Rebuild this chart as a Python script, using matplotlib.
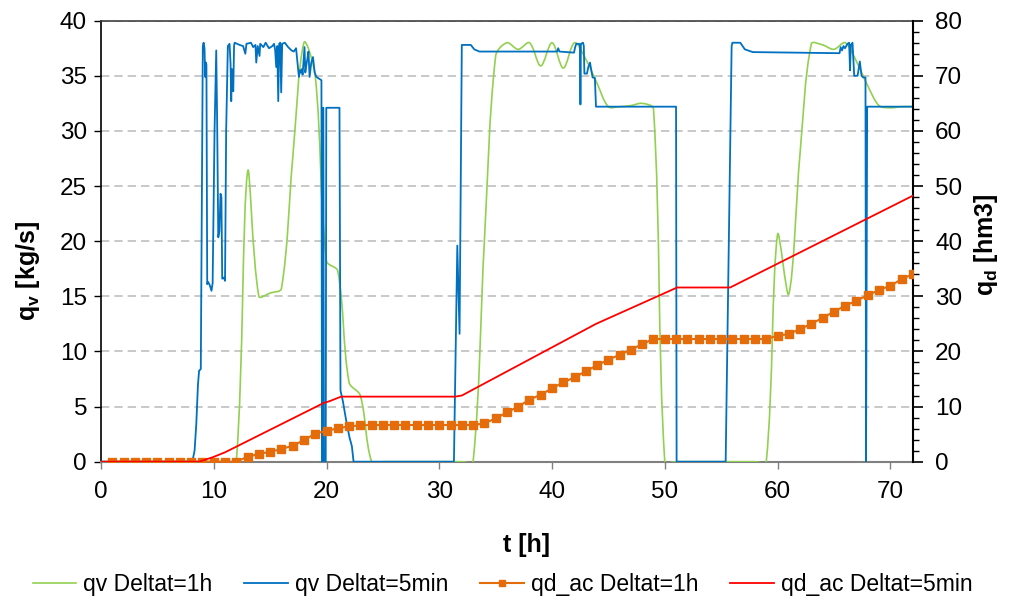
import numpy as np
import matplotlib
matplotlib.use("Agg")
import matplotlib.pyplot as plt
from matplotlib.path import Path
from matplotlib.patches import PathPatch
from matplotlib.lines import Line2D
from matplotlib.ticker import MultipleLocator

plt.rcParams['font.family'] = ['Liberation Sans', 'DejaVu Sans']
plt.rcParams['mathtext.fontset'] = 'custom'
plt.rcParams['mathtext.rm'] = 'Liberation Sans'
plt.rcParams['mathtext.bf'] = 'Liberation Sans:bold'

# qv with Deltat = 1h (hourly values, t = 0..72)
t_1h = list(range(0, 73))
qv_1h = [0, 0, 0, 0, 0, 0, 0, 0, 0, 0, 0, 0,
         0, 26.3, 15.0, 15.3, 15.7, 27.5, 38.0, 35.0, 18.2, 17.3, 7.2, 6.0,
         0, 0, 0, 0, 0, 0, 0, 0, 0, 0, 20.0, 36.8,
         38.0, 37.4, 38.0, 35.9, 38.0, 35.7, 38.0, 36.5, 34.3, 32.2, 32.2, 32.3,
         32.5, 32.0, 0, 0, 0, 0, 0, 0, 0, 0, 0, 0,
         20.6, 15.2, 28.0, 37.9, 37.8, 37.4, 38.0, 36.3, 34.1, 32.3, 32.1, 32.2,
         32.2]

# qd_ac with Deltat = 1h (t = 1..72)
t_acc_1h = list(range(1, 73))
qd_1h = [0, 0, 0, 0, 0, 0, 0, 0, 0, 0, 0, 0,
         0.9, 1.4, 1.8, 2.3, 2.9, 3.9, 5.1, 5.6, 6.05, 6.4, 6.6, 6.65,
         6.65, 6.65, 6.65, 6.65, 6.65, 6.65, 6.65, 6.65, 6.65, 6.95, 7.86, 8.95,
         10.0, 11.25, 12.15, 13.3, 14.4, 15.3, 16.4, 17.5, 18.5, 19.4, 20.3, 21.35,
         22.25, 22.25, 22.25, 22.25, 22.25, 22.25, 22.25, 22.25, 22.25, 22.25, 22.25,
         22.85, 23.15,
         24.05, 25.0, 26.1, 27.2, 28.3, 29.2, 30.2, 31.15, 31.9, 33.1, 34.05]

# qv with Deltat = 5min
t_5min = [0, 8.1, 8.3, 8.45, 8.6, 8.7, 8.85, 9.03, 9.1, 9.18, 9.24, 9.3, 9.35,
          9.42, 9.5, 9.65, 9.8, 9.9, 10.07, 10.22, 10.3, 10.4, 10.5, 10.6, 10.68,
          10.75, 10.9, 11.0, 11.1, 11.25, 11.4, 11.49, 11.55, 11.62, 11.73, 11.8,
          11.85, 12.29, 12.6, 12.8, 12.9, 13.3, 13.5, 13.7, 13.77, 13.9, 14.06,
          14.12, 14.4, 14.6, 14.9, 15.2, 15.35, 15.45, 15.54, 15.63, 15.72, 15.8,
          15.9, 15.98, 16.07, 16.3, 16.6, 16.9, 17.1, 17.3, 17.55, 17.65, 17.72,
          17.8, 17.88, 18.05, 18.12, 18.2, 18.3, 18.4, 18.5, 18.65, 18.8, 18.95,
          19.1, 19.4, 19.55, 19.6, 19.65, 19.72, 19.77, 19.93, 19.98, 21.15, 21.24,
          21.45, 21.75, 22.04, 22.25, 22.4, 31.3, 31.6, 31.8, 32.0, 32.8, 33.1,
          33.56, 40.45, 40.55, 40.65, 41.95, 42.05, 42.15, 42.4, 42.48, 42.52,
          42.56, 42.75, 42.82, 42.87, 43.1, 43.22, 43.37, 43.5, 43.6, 43.8, 43.9,
          51.0, 51.05, 55.4, 55.93, 56.0, 56.7, 57.1, 57.8, 65.5, 65.6, 65.72,
          65.85, 65.98, 66.2, 66.35, 66.43, 66.5, 66.65, 66.8, 67.1, 67.3, 67.45,
          67.6, 67.8, 67.85, 67.95, 72]
qv_5min = [0, 0, 1.0, 3.4, 7.0, 8.25, 8.4, 37.7, 38.0, 37.5, 34.9, 36.2, 36.0,
           16.1, 16.3, 16.0, 15.5, 16.2, 30.0, 37.3, 31.0, 20.35, 20.9, 24.3, 24.0,
           16.6, 16.7, 16.4, 30.0, 37.7, 37.9, 36.1, 32.7, 35.6, 33.6, 37.7,
           38.0, 37.8, 37.7, 37.0, 37.9, 38.0, 37.6, 37.8, 36.2, 37.7, 36.8,
           37.9, 37.6, 38.0, 37.5, 37.7, 37.9, 37.3, 35.8, 37.7, 32.7, 37.9,
           38.0, 33.5, 37.9, 38.0, 37.6, 37.3, 37.2, 37.5, 34.9, 35.5, 35.3,
           35.6, 35.1, 37.6, 35.3, 35.9, 36.5, 37.2, 34.9, 36.2, 36.7, 35.3,
           34.9, 34.7, 34.6, 0, 32.1, 32.1, 0, 0, 32.1, 32.1, 6.45,
           5.5, 3.7, 2.2, 1.4, 0, 0, 19.6, 11.6, 37.8, 37.8, 37.4,
           37.2, 37.2, 37.5, 37.2, 37.1, 37.6, 37.9, 37.9, 37.7, 32.4,
           37.9, 38.0, 37.7, 35.2, 35.2, 35.8, 36.2, 35.4, 34.85, 34.8, 32.2,
           32.2, 0, 0, 37.7, 38.0, 38.0, 37.4, 37.15, 37.05, 37.6, 37.3,
           37.7, 37.5, 37.9, 38.0, 35.5, 37.8, 38.0, 35.0, 35.0, 36.3, 35.0,
           34.85, 34.85, 0, 32.2, 32.2]

# qd_ac with Deltat = 5min
t_acc_5min = [0, 8.7, 9.9, 11.0, 19.7, 20.3, 21.3, 31.4, 32.0, 43.9, 51.1, 55.8, 72]
qd_5min = [0, 0, 0.8, 1.7, 10.6, 11.0, 11.8, 11.8, 12.0, 25.0, 31.6, 31.6, 48.25]

c_green = '#92D050'
c_blue = '#0070C0'
c_orange = '#E46C0A'
c_red = '#FF0000'


def smooth_line(ax, x, y, **kw):
    # Excel style smoothed line: Bezier through every point,
    # control arms scaled by the chord lengths on screen
    x = np.asarray(x, float)
    y = np.asarray(y, float)
    sx = ax.bbox.width / (ax.get_xlim()[1] - ax.get_xlim()[0])
    sy = ax.bbox.height / (ax.get_ylim()[1] - ax.get_ylim()[0])
    n = len(x)

    def d(i, j):
        return np.hypot((x[j] - x[i]) * sx, (y[j] - y[i]) * sy)

    verts = [(x[0], y[0])]
    codes = [Path.MOVETO]
    for i in range(n - 1):
        i0 = max(i - 1, 0)
        i3 = min(i + 2, n - 1)
        d01, d12, d23 = d(i0, i), d(i, i + 1), d(i + 1, i3)
        f1 = d12 / (d01 + d12) / 3 if d01 + d12 > 0 else 0
        f2 = d12 / (d12 + d23) / 3 if d12 + d23 > 0 else 0
        c1 = (x[i] + (x[i + 1] - x[i0]) * f1, y[i] + (y[i + 1] - y[i0]) * f1)
        c2 = (x[i + 1] - (x[i3] - x[i]) * f2, y[i + 1] - (y[i3] - y[i]) * f2)
        verts += [c1, c2, (x[i + 1], y[i + 1])]
        codes += [Path.CURVE4] * 3
    patch = PathPatch(Path(verts, codes), fill=False, **kw)
    ax.add_patch(patch)
    return patch


fig = plt.figure(figsize=(10.11, 6.01), dpi=100)
ax = fig.add_axes([0.0999, 0.2318, 0.803, 0.7338])
ax.set_xlim(0, 72)
ax.set_ylim(0, 40)

# primary axis: flows
smooth_line(ax, t_1h, qv_1h, edgecolor=c_green, lw=1.2, joinstyle='round', zorder=3)
ax.plot(t_5min, qv_5min, color=c_blue, lw=1.3, zorder=4)

ax.set_yticks(np.arange(0, 41, 5))
ax.set_xticks(np.arange(0, 71, 10))
ax.yaxis.grid(True, color='#BFBFBF', lw=1.2, ls=(0, (5, 3)))
ax.set_axisbelow(True)
ax.spines['right'].set_visible(False)
ax.spines['top'].set_color('#404040')
ax.spines['top'].set_linewidth(1.2)
ax.spines['bottom'].set_color('#808080')
ax.spines['bottom'].set_linewidth(1.5)
ax.spines['left'].set_linewidth(1.2)
ax.tick_params(axis='y', direction='out', length=5, width=1.0, labelsize=17.5, pad=5)
ax.tick_params(axis='x', direction='out', length=5, width=1.0, color='#808080',
               labelsize=17.5, pad=9)

# secondary axis: accumulated volumes
ax2 = ax.twinx()
ax2.set_ylim(0, 80)
ax2.plot(t_acc_1h, qd_1h, color=c_orange, lw=1.5, marker='s', ms=5.5, zorder=3)
ax2.plot(t_acc_5min, qd_5min, color=c_red, lw=1.3, zorder=4)
ax2.set_yticks(np.arange(0, 81, 10))
ax2.yaxis.set_minor_locator(MultipleLocator(2))
for s in ['top', 'left', 'bottom']:
    ax2.spines[s].set_visible(False)
ax2.spines['right'].set_linewidth(1.5)
ax2.tick_params(axis='y', which='major', direction='out', length=7, width=1.2,
                labelsize=17.5, pad=9)
ax2.tick_params(axis='y', which='minor', direction='out', length=4, width=1.0)

fig.text(0.028, 0.55, r'q$_\mathbf{v}$ [kg/s]', rotation=90, ha='center', va='center',
         fontsize=18, fontweight='bold')
fig.text(0.975, 0.592, r'q$_\mathbf{d}$ [hm3]', rotation=90, ha='center', va='center',
         fontsize=18, fontweight='bold')
fig.text(0.521, 0.093, 't [h]', ha='center', va='center', fontsize=18, fontweight='bold')

handles = [Line2D([], [], color=c_green, lw=1.2),
           Line2D([], [], color=c_blue, lw=1.3),
           Line2D([], [], color=c_orange, lw=1.5, marker='s', ms=5),
           Line2D([], [], color=c_red, lw=1.3)]
labels = ['qv Deltat=1h', 'qv Deltat=5min', 'qd_ac Deltat=1h', 'qd_ac Deltat=5min']
fig.legend(handles, labels, loc='center', bbox_to_anchor=(0.497, 0.027), ncol=4,
           frameon=False, fontsize=16.5, numpoints=1, handlelength=1.9,
           handletextpad=0.3, columnspacing=1.4)

fig.savefig('out.png', dpi=100)
